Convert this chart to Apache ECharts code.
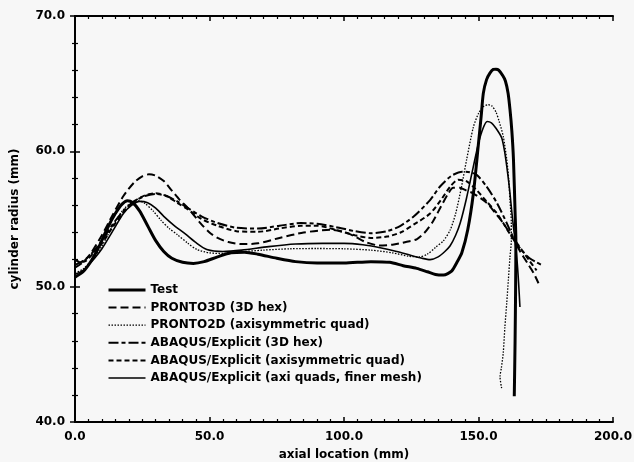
<!DOCTYPE html>
<html>
<head>
<meta charset="utf-8">
<script src="https://cdn.jsdelivr.net/npm/echarts@6/dist/echarts.min.js"></script>
<style>
  html, body { margin: 0; padding: 0; background: #f7f7f7; }
  #chart { width: 634px; height: 462px; }
</style>
</head>
<body>
<div id="chart"></div>
<script>
// Axis ranges and tick spacing
const xRange = [0, 200, 50];
const yRange = [40, 70, 10];

// Series names, in legend order
const seriesNames = [
  'Test',
  'PRONTO3D (3D hex)',
  'PRONTO2D (axisymmetric quad)',
  'ABAQUS/Explicit (3D hex)',
  'ABAQUS/Explicit (axisymmetric quad)',
  'ABAQUS/Explicit (axi quads, finer mesh)'
];

// [axial location (mm), cylinder radius (mm)]
const testCurve = [
  [0,50.7],[3,51.1],[6,51.9],[9,53.0],[12,54.3],[15,55.4],[17.5,56.1],[19.5,56.35],
  [21.5,56.2],[24,55.6],[27,54.5],[30,53.4],[33,52.6],[36,52.1],[40,51.8],[44,51.72],
  [48,51.85],[53,52.2],[58,52.5],[63,52.55],[68,52.4],[75,52.1],[82,51.85],[90,51.75],
  [100,51.75],[110,51.85],[117,51.8],[122,51.55],[127,51.35],[131,51.1],[134,50.9],
  [137,50.86],[140,51.15],[142,51.8],[143.8,52.5],[146,54.2],[148.1,56.9],[150,60.6],
  [151,62.6],[151.8,64.3],[153,65.3],[154.3,65.8],[155.5,66.05],[156.5,66.07],
  [157.5,66.0],[159,65.6],[160,65.2],[161,64.3],[161.7,63.1],[162.4,61.5],[163,59.4],
  [163.6,55.5],[163.9,53.4],[163.8,50],[163.6,46],[163.3,41.9]
];

const pronto3d = [
  [0,51.4],[3,51.8],[6,52.5],[10,53.8],[14,55.3],[18,56.7],[22,57.7],[25,58.15],
  [27.5,58.3],[30,58.2],[33,57.8],[36,57.1],[39,56.4],[42,55.8],[46.6,54.7],[50,54.0],
  [53,53.6],[57,53.3],[62,53.15],[68,53.2],[76,53.6],[85,54.0],[95,54.2],[102,53.9],
  [108,53.3],[113,53.05],[118,53.1],[123,53.3],[127,53.5],[130,54.0],[133,54.8],
  [136,55.9],[138.5,56.8],[140.6,57.3],[143,57.3],[145.5,57.1],[148,56.9],[153,56.2],
  [156,55.5],[159.2,54.7],[163,53.5],[165.5,52.6],[168,51.8],[170.5,51.0],[172.3,50.25]
];

const pronto2d = [
  [0,51.0],[3,51.3],[6,51.9],[10,53.0],[14,54.5],[18,55.7],[21,56.2],[23.5,56.35],
  [26,56.15],[29,55.6],[32,54.9],[35,54.3],[38,53.85],[42,53.2],[45.3,52.75],[50,52.5],
  [55,52.45],[60,52.55],[70,52.7],[80,52.8],[90,52.82],[100,52.8],[110,52.7],[118,52.5],
  [124,52.25],[128,52.2],[131,52.4],[134,52.9],[137,53.4],[139.5,54.2],[141.5,55.4],
  [143.5,57.2],[145.6,59.4],[148.1,61.8],[150,62.8],[151.8,63.3],[153.5,63.45],
  [155,63.35],[156.5,62.9],[157.7,62.2],[159.2,61.1],[160.5,59.4],[161.2,58],
  [161.7,56.4],[162.2,54.7],[162.2,53.4],[161.7,52.2],[161.1,50.5],[160.5,48.8],
  [159.8,47],[159.2,45.1],[158.5,44],[158,43.35],[158.6,42.5]
];

const abaqus3d = [
  [0,51.6],[3,51.9],[6,52.4],[10,53.4],[14,54.6],[18,55.6],[22,56.3],[26,56.7],
  [30,56.85],[34,56.7],[38,56.3],[42,55.8],[47,55.2],[53,54.7],[60,54.35],[68,54.3],
  [76,54.5],[84,54.7],[90,54.65],[97,54.4],[104,54.1],[110,53.95],[116,54.1],[121,54.5],
  [126,55.2],[132,56.4],[135.7,57.4],[140,58.2],[144,58.5],[147,58.45],[149.4,58.25],
  [153,57.4],[156.8,56.2],[160.5,54.7],[163.5,53.4],[166,52.7],[169,52.1],[171.5,51.8],
  [173.5,51.6]
];

const abaqusAxi = [
  [0,52.0],[2,51.8],[4,51.9],[7,52.5],[10,53.2],[14,54.4],[18,55.5],[22,56.3],
  [26,56.75],[30,56.9],[34,56.7],[38,56.2],[42,55.7],[47,55.0],[53,54.5],[60,54.1],
  [68,54.05],[76,54.3],[84,54.5],[90,54.5],[97,54.2],[104,53.8],[110,53.6],[116,53.7],
  [121,54.0],[126,54.6],[132,55.4],[136,56.4],[139.5,57.4],[142.5,57.9],[145.5,57.8],
  [149,57.2],[153,56.3],[156.5,55.5],[159.2,54.7],[162,53.8],[164,53.3],[166.5,52.6],
  [169,51.9],[171.6,51.2]
];

const abaqusFine = [
  [0,50.9],[3,51.2],[6,51.8],[10,52.8],[14,54.1],[18,55.4],[21,56.0],[24,56.3],
  [27,56.2],[30,55.8],[33,55.2],[37,54.5],[41,53.9],[45,53.25],[49,52.75],[55,52.6],
  [62,52.7],[72,52.96],[82,53.15],[92,53.2],[100,53.2],[107,53.1],[113,52.9],
  [119.6,52.6],[125,52.3],[129,52.1],[132,52.0],[135,52.2],[137.5,52.6],[139.4,53.0],
  [141.5,53.8],[143.2,54.7],[145.5,56.5],[148,58.8],[150,60.6],[151.7,61.7],
  [153.2,62.2],[154.8,62.1],[156.5,61.7],[158.6,61.0],[159.7,60],[160.5,58.9],
  [161.2,57.8],[161.7,56.9],[162.4,55.5],[163,54.4],[163.6,53.4],[164.3,52],
  [164.9,50.3],[165.4,48.5]
];

const curves = [testCurve, pronto3d, pronto2d, abaqus3d, abaqusAxi, abaqusFine];

// Line appearance for each series
const lineStyles = [
  { width: 3, type: 'solid' },
  { width: 2, type: [8, 4] },
  { width: 1.3, type: [1.5, 1.5] },
  { width: 2, type: [10, 3, 4, 3] },
  { width: 2, type: [5, 3] },
  { width: 1.6, type: 'solid' }
];

const FONT = 'DejaVu Sans';
const labelStyle = { color: '#000', fontFamily: FONT, fontWeight: 'bold', fontSize: 12 };
const axisLineStyle = { show: true, lineStyle: { color: '#000', width: 2 } };

function makeXAxis(position, withLabels) {
  return {
    type: 'value', position: position,
    min: xRange[0], max: xRange[1], interval: xRange[2],
    axisLine: axisLineStyle,
    axisTick: { show: true, inside: true, length: 5, lineStyle: { color: '#000', width: 1.5 } },
    minorTick: { show: true, splitNumber: 10, length: 3, lineStyle: { color: '#000', width: 1.2 } },
    splitLine: { show: false },
    axisLabel: withLabels ? Object.assign({ margin: 9, formatter: v => v.toFixed(1) }, labelStyle) : { show: false },
    name: withLabels ? 'axial location (mm)' : '',
    nameLocation: 'middle', nameGap: 27,
    nameTextStyle: labelStyle
  };
}

function makeYAxis(position, withLabels) {
  return {
    type: 'value', position: position,
    min: yRange[0], max: yRange[1], interval: yRange[2],
    axisLine: axisLineStyle,
    axisTick: { show: true, inside: true, length: 5, lineStyle: { color: '#000', width: 1.5 } },
    minorTick: { show: true, splitNumber: 5, length: 3, lineStyle: { color: '#000', width: 1.2 } },
    splitLine: { show: false },
    axisLabel: withLabels ? Object.assign({ margin: 10, formatter: v => v.toFixed(1) }, labelStyle) : { show: false },
    name: withLabels ? 'cylinder radius (mm)' : '',
    nameLocation: 'middle', nameGap: 54,
    nameTextStyle: labelStyle
  };
}

const chart = echarts.init(document.getElementById('chart'), null, { renderer: 'canvas' });

chart.setOption({
  backgroundColor: '#f7f7f7',
  animation: false,
  grid: { left: 75, right: 21, top: 16, bottom: 40, outerBoundsMode: 'none' },
  xAxis: [makeXAxis('bottom', true), makeXAxis('top', false)],
  yAxis: [makeYAxis('left', true), makeYAxis('right', false)],
  legend: {
    orient: 'vertical',
    left: 102, top: 278,
    itemWidth: 37, itemHeight: 14, itemGap: 3.6,
    textStyle: Object.assign({ lineHeight: 14 }, labelStyle),
    // legend keys show only the line pattern, no marker
    itemStyle: { opacity: 0, borderWidth: 0 },
    lineStyle: { width: 'inherit', type: 'inherit' },
    data: seriesNames
  },
  series: curves.map((pts, i) => ({
    name: seriesNames[i],
    type: 'line',
    data: pts,
    showSymbol: false,
    symbol: 'none',
    smooth: 0.25,
    clip: true,
    color: '#000',
    lineStyle: Object.assign({ color: '#000', cap: 'butt' }, lineStyles[i]),
    z: 2 + i
  }))
});
</script>
</body>
</html>
